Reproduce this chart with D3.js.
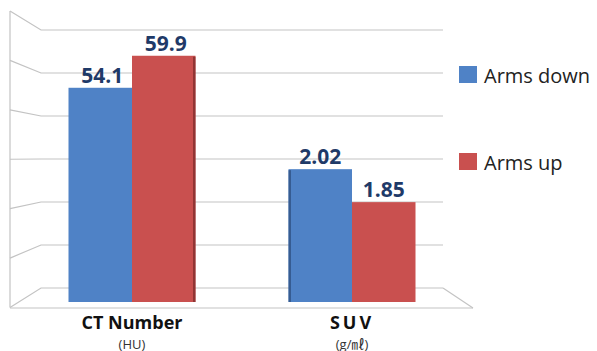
<!DOCTYPE html>
<html>
<head>
<meta charset="utf-8">
<script src="https://cdn.jsdelivr.net/npm/d3@7"></script>
<style>
  html, body { margin: 0; padding: 0; background: #fff; }
  svg { display: block; font-family: "Open Sans", "Noto Sans", "Noto Sans CJK KR", sans-serif; }
</style>
</head>
<body>
<svg id="chart" width="597" height="351"></svg>
<script>
// ---- data ----
const categories = ["CT Number", "SUV"];
const units = ["(HU)", "(g/㎖)"];
const series = ["Arms down", "Arms up"];
const armsDown = [54.1, 2.02];
const armsUp = [59.9, 1.85];
const valueLabels = [["54.1", "59.9"], ["2.02", "1.85"]];
const ctDomain = [15.3, 67.1];
const suvDomain = [1.335, 2.81];
const gridTicks = [0, 1, 2, 3, 4, 5, 6];
const colors = ["#4f82c6", "#c9504f"];
const darkColors = ["#2d4f80", "#7d2c2b"];

const svg = d3.select("#chart");

// ---- frame (3D walls) ----
const frontX = 10, backX = 41, backRight = 443, floorRight = 473;
const yBack = d3.scaleLinear().domain([0, 6]).range([288, 30]);
const yFront = d3.scaleLinear().domain([0, 6]).range([307.5, 11]);

const grid = svg.append("g").attr("stroke", "#c3c3c3").attr("stroke-width", 1.2).attr("fill", "none");
grid.append("line").attr("x1", frontX).attr("x2", frontX)
  .attr("y1", yFront(6)).attr("y2", yFront(0));
gridTicks.forEach(t => {
  grid.append("polyline")
    .attr("points", [[frontX, yFront(t)], [backX, yBack(t)], [backRight, yBack(t)]].map(p => p.join(",")).join(" "));
});
grid.append("line").attr("x1", backRight).attr("y1", yBack(0)).attr("x2", floorRight).attr("y2", yFront(0) + 0.5);
grid.append("line").attr("x1", frontX).attr("y1", yFront(0) + 0.5).attr("x2", floorRight).attr("y2", yFront(0) + 0.5);

// ---- scales ----
const x = d3.scaleBand().domain(categories).range([backX, backRight])
  .paddingInner(0.4227).paddingOuter(0.125);
const xs = d3.scaleBand().domain(series).range([0, x.bandwidth()]);
const baseY = 302, topY = 16;
const yScales = [
  d3.scaleLinear().domain(ctDomain).range([baseY, topY]),
  d3.scaleLinear().domain(suvDomain).range([baseY, topY])
];

const rows = categories.map((c, i) => ({
  cat: c, unit: units[i], idx: i,
  vals: [armsDown[i], armsUp[i]]
}));

// ---- bars ----
const groups = svg.selectAll("g.grp").data(rows).join("g")
  .attr("class", "grp")
  .attr("transform", d => `translate(${x(d.cat)},0)`);

groups.each(function(d) {
  const g = d3.select(this);
  const ys = yScales[d.idx];
  series.forEach((s, j) => {
    const v = d.vals[j];
    g.append("rect")
      .attr("x", xs(s))
      .attr("y", ys(v))
      .attr("width", xs.bandwidth())
      .attr("height", baseY - ys(v))
      .attr("fill", colors[j]);
  });
  const j = d.idx === 0 ? 1 : 0;
  const s = series[j];
  const v = d.vals[j];
  g.append("rect")
    .attr("x", d.idx === 0 ? xs(s) + xs.bandwidth() - 2.5 : xs(s))
    .attr("y", ys(v) + 1)
    .attr("width", 2.5)
    .attr("height", baseY - ys(v) - 1)
    .attr("fill", darkColors[j])
    .attr("opacity", 0.75);
  series.forEach((s2, k) => {
    g.append("text")
      .attr("x", xs(s2) + xs.bandwidth() / 2 + (d.idx === 0 ? 2 : 0))
      .attr("y", ys(d.vals[k]) - 5)
      .attr("text-anchor", "middle")
      .attr("font-size", 21)
      .attr("font-weight", 700)
      .attr("fill", "#1f3a68")
      .text(valueLabels[d.idx][k]);
  });
  g.append("text")
    .attr("x", x.bandwidth() / 2)
    .attr("y", 328.5)
    .attr("text-anchor", "middle")
    .attr("font-size", 18)
    .attr("font-weight", 700)
    .attr("letter-spacing", d.idx === 1 ? 3 : 0)
    .attr("fill", "#111")
    .text(d.cat);
  g.append("text")
    .attr("x", x.bandwidth() / 2)
    .attr("y", 348.5)
    .attr("text-anchor", "middle")
    .attr("font-size", 13)
    .attr("fill", "#333")
    .text(d.unit);
});

// ---- legend ----
const legendY = [66, 153];
const legend = svg.append("g");
series.forEach((s, j) => {
  legend.append("rect")
    .attr("x", 459).attr("y", legendY[j])
    .attr("width", 18).attr("height", 17)
    .attr("fill", colors[j]);
  legend.append("text")
    .attr("x", 484).attr("y", legendY[j] + 17)
    .attr("font-size", 20)
    .attr("fill", "#222")
    .text(s);
});
</script>
</body>
</html>
